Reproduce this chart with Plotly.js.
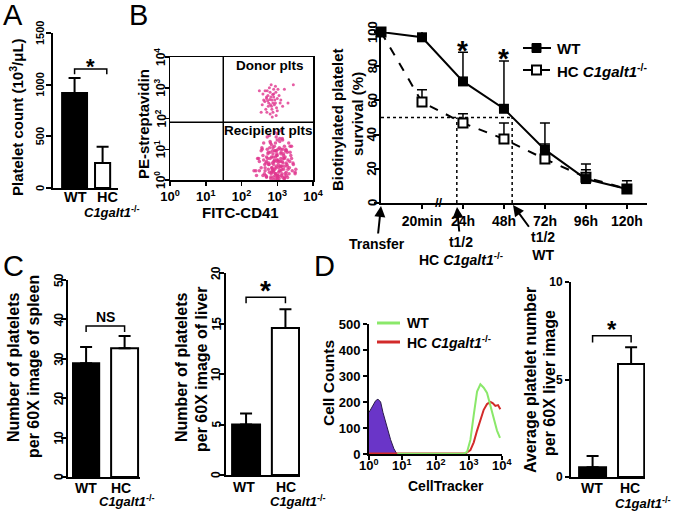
<!DOCTYPE html>
<html><head><meta charset="utf-8">
<script src="https://cdn.plot.ly/plotly-3.0.1.min.js"></script>
<style>html,body{margin:0;padding:0;background:#fff;}#chart{width:677px;height:513px;}</style>
</head><body><div id="chart"></div>
<script>
// ---------------- DATA ----------------
const barCats = ['WT', 'HC'];
const geneLabel = '<i>C1galt1</i><sup>-/-</sup>';

// Panel A: platelet count (10^3/uL)
const plateletCount = [919, 242];
const plateletCountErr = [146, 158];
const plateletTicks = [0, 500, 1000, 1500];

// Panel B (left): flow cytometry dots, log10 units (FITC-CD41, PE-streptavidin)
const donorX = [2.85,2.7,2.95,2.8,3.0,2.75,2.9,2.65,3.05,2.85,2.78,2.92,2.6,3.1,2.88,2.72,2.98,2.82,2.68,3.02,2.9,2.76,2.84,2.95,2.7,2.58,3.15,2.86,2.8,2.93,2.74,3.0,2.66,2.88,2.79,2.96,2.83,2.71,3.08,2.9,2.5,3.3,3.45,2.55,3.2,2.62,2.97,2.81,2.87,2.73];
const donorY = [2.6,2.7,2.5,2.85,2.65,2.4,2.95,2.55,2.75,2.3,3.0,2.45,2.8,2.6,2.2,2.9,2.35,2.7,2.3,2.95,2.8,2.5,2.4,3.05,2.65,2.45,2.4,2.05,2.15,2.6,2.75,2.25,2.9,2.5,2.62,2.85,3.1,2.2,2.5,2.7,2.9,2.5,3.1,2.2,2.95,2.6,2.1,2.45,2.78,2.58];
const recipX = [2.9,3.0,3.1,2.8,3.05,2.95,3.2,2.85,3.15,2.7,3.0,2.92,3.08,2.78,3.25,2.88,3.12,2.98,2.65,3.3,2.95,3.02,2.82,3.18,2.75,3.06,2.9,3.22,2.6,3.35,2.86,3.1,2.96,3.0,2.72,3.14,2.84,3.28,2.94,3.04,2.55,3.4,2.8,3.2,2.99,2.91,3.07,2.68,3.16,2.87,3.01,2.77,3.24,2.93,3.11,2.83,3.19,2.62,3.33,2.97,3.03,2.89,3.09,2.74,3.26,2.81,3.13,2.95,2.5,3.45,2.9,3.05,2.85,3.17,2.7,3.0,2.98,3.23,2.79,3.1,2.45,3.5,2.66,3.36,2.92,3.06,2.88,3.14,2.76,3.21,2.58,2.4,3.38,3.02,2.94,2.84,3.12,2.73,3.27,2.97,
  2.35,2.5,2.62,2.7,2.78,2.86,2.93,3.0,3.07,3.14,3.2,3.28,3.36,3.42,3.5,2.55,2.68,2.8,2.9,3.0,3.1,3.2,3.3,3.4,2.6,2.72,2.84,2.96,3.08,3.18,3.26,3.34,2.48,2.64,2.76,2.88,2.99,3.11,3.22,3.32,2.7,2.82,2.94,3.04,3.15,3.25,2.57,2.75,2.91,3.05,3.17,3.29,3.44,2.66,2.87,3.02,3.13,2.42,3.52,2.98];
const recipY = [0.5,0.8,0.3,0.9,0.6,0.2,0.7,0.4,1.0,0.6,0.1,1.1,0.45,0.25,0.55,0.75,0.15,0.95,0.5,0.35,1.2,0.65,0.05,0.85,0.35,1.05,0.3,0.2,0.8,0.6,0.55,0.7,0.4,1.3,1.0,0.1,1.15,0.9,0.15,0.25,0.4,0.7,0.7,0.45,0.85,0.6,1.25,0.15,0.55,0.95,0.03,0.5,1.0,0.35,0.9,0.2,0.05,0.65,0.2,1.4,0.5,0.1,0.6,0.85,0.15,1.2,0.35,0.75,0.3,0.5,0.25,0.05,0.4,0.8,0.1,0.6,0.45,0.95,1.05,1.0,0.7,0.25,0.4,1.1,0.65,0.3,0.85,1.35,0.55,0.1,1.0,0.3,0.8,0.15,0.95,0.25,0.45,0.7,0.5,0.05,
  0.3,0.6,1.2,0.1,1.45,0.3,1.55,0.15,1.35,0.6,1.1,0.45,0.9,0.3,0.2,0.95,0.55,1.25,0.02,1.5,0.85,0.05,0.65,1.1,0.15,1.4,0.75,0.2,1.6,0.35,0.95,0.4,0.7,0.2,0.5,1.05,0.65,0.45,0.75,1.2,0.75,0.1,0.95,0.4,1.3,0.25,1.05,0.9,0.6,0.12,0.7,0.08,0.55,0.3,0.35,1.0,0.2,0.15,0.35,0.8];
const flowTickVals = [0, 1, 2, 3, 4];
const flowTicks = ['10<sup>0</sup>','10<sup>1</sup>','10<sup>2</sup>','10<sup>3</sup>','10<sup>4</sup>'];

// Panel B (right): biotinylated platelet survival (%)
const survivalTimes = ['Transfer','20min','24h','48h','72h','96h','120h'];
const wtSurvival = [100, 96.9, 71.1, 55.1, 31.2, 14.0, 8.2];
const wtSurvivalErr = [0, 4.1, 17.0, 28.0, 15.6, 8.8, 4.8];
const hcSurvival = [100, 59.0, 46.8, 37.4, 25.7, 15.0, 8.2];
const hcSurvivalErr = [0, 7.3, 5.4, 9.4, 8.8, 4.5, 0];
const survivalTicks = [0, 20, 40, 60, 80, 100];

// Panel C
const spleenPlatelets = [28.9, 32.7];
const spleenErr = [4.1, 3.1];
const spleenTicks = [0, 10, 20, 30, 40, 50];
const liverPlatelets = [5.0, 14.55];
const liverErr = [1.1, 1.85];
const liverTicks = [0, 5, 10, 15, 20];

// Panel D (left): CellTracker histogram, x in log10 units
const bgX = [0, 0.1, 0.2, 0.27, 0.35, 0.42, 0.5, 0.57, 0.65, 0.75, 0.84];
const bgY = [160, 185, 205, 211, 200, 160, 120, 92, 55, 20, 0];
const wtHistX = [0.85, 2.85, 2.95, 3.05, 3.15, 3.25, 3.35, 3.45, 3.55, 3.65, 3.75, 3.85, 3.94];
const wtHistY = [1, 1, 8, 55, 150, 240, 268, 255, 235, 185, 130, 90, 62];
const hcHistX = [0, 2.9, 3.05, 3.15, 3.25, 3.35, 3.45, 3.55, 3.65, 3.72, 3.8, 3.88, 3.95];
const hcHistY = [2, 2, 15, 45, 90, 135, 170, 192, 200, 196, 185, 188, 172];
const countTicks = [0, 100, 200, 300, 400, 500];

// Panel D (right): average platelet number per 60X liver image
const avgLiverPlatelets = [0.5, 5.8];
const avgLiverErr = [0.58, 0.85];
const avgTicks = [0, 5, 10];

// ---------------- LAYOUT HELPERS ----------------
const W = 677, H = 513;
const F = 'Liberation Sans, Arial, Helvetica, sans-serif';
const fx = p => p / W;
const fy = p => 1 - p / H;
const bold = (size) => ({family: F, size: size, color: '#000', weight: 'bold'});

function axis(domain, range, extra) {
  return Object.assign({
    domain: domain, range: range, showline: true, linewidth: 2, linecolor: '#000',
    ticks: 'outside', ticklen: 5, tickwidth: 2, tickcolor: '#000',
    showgrid: false, zeroline: false, tickfont: bold(12), fixedrange: true
  }, extra || {});
}
const errUp = (arr, th, w) => ({type: 'data', symmetric: false, array: arr, arrayminus: arr.map(() => 0), color: '#000', thickness: th || 2, width: w || 6});
const catIdx = barCats.map((c, i) => i);
const timeIdx = survivalTimes.map((t, i) => i);

function barTrace(vals, errs, widths, xa, ya) {
  return {type: 'bar', x: catIdx, y: vals, width: widths,
    marker: {color: ['#000', '#fff'], line: {color: '#000', width: 2}},
    error_y: errUp(errs), xaxis: xa, yaxis: ya, hoverinfo: 'skip'};
}

const traces = [
  barTrace(plateletCount, plateletCountErr, [0.89, 0.54], 'x', 'y'),
  {type: 'scatter', mode: 'markers', x: donorX, y: donorY, xaxis: 'x2', yaxis: 'y2',
   marker: {size: 3, color: '#e0358d', opacity: 0.8}, hoverinfo: 'skip'},
  {type: 'scatter', mode: 'markers', x: recipX, y: recipY, xaxis: 'x2', yaxis: 'y2',
   marker: {size: 3.5, color: '#e0358d', opacity: 0.8}, hoverinfo: 'skip'},
  {type: 'scatter', mode: 'lines+markers', x: timeIdx, y: hcSurvival, xaxis: 'x3', yaxis: 'y3',
   line: {color: '#000', width: 2, dash: 'dash'},
   marker: {symbol: 'square', size: 9, color: '#fff', line: {color: '#000', width: 2}},
   error_y: errUp(hcSurvivalErr, 1.5, 5), cliponaxis: false, hoverinfo: 'skip'},
  {type: 'scatter', mode: 'lines+markers', x: timeIdx, y: wtSurvival, xaxis: 'x3', yaxis: 'y3',
   line: {color: '#000', width: 2},
   marker: {symbol: 'square', size: 10, color: '#000'},
   error_y: errUp(wtSurvivalErr, 1.5, 5), cliponaxis: false, hoverinfo: 'skip'},
  barTrace(spleenPlatelets, spleenErr, [0.68, 0.7], 'x4', 'y4'),
  barTrace(liverPlatelets, liverErr, [0.71, 0.69], 'x5', 'y5'),
  {type: 'scatter', mode: 'lines', x: bgX, y: bgY, xaxis: 'x6', yaxis: 'y6', fill: 'tozeroy',
   fillcolor: '#6a35c8', line: {color: '#2a1a4a', width: 1}, hoverinfo: 'skip'},
  {type: 'scatter', mode: 'lines', x: hcHistX, y: hcHistY, xaxis: 'x6', yaxis: 'y6',
   line: {color: '#d22a2a', width: 2}, hoverinfo: 'skip'},
  {type: 'scatter', mode: 'lines', x: wtHistX, y: wtHistY, xaxis: 'x6', yaxis: 'y6',
   line: {color: '#8ae86a', width: 2}, hoverinfo: 'skip'},
  barTrace(avgLiverPlatelets, avgLiverErr, [0.7, 0.68], 'x7', 'y7')
];

const barX = (extra) => Object.assign({tickvals: catIdx, ticktext: barCats, ticks: '', showticklabels: false}, extra);

const layout = {
  width: W, height: H, autosize: false, showlegend: false,
  margin: {l: 0, r: 0, t: 0, b: 0}, paper_bgcolor: '#fff', plot_bgcolor: 'rgba(0,0,0,0)',
  font: {family: F, color: '#000'},
  // A
  xaxis: axis([fx(53), fx(118)], [-0.77, 1.55], barX({anchor: 'y'})),
  yaxis: axis([fy(188), fy(33)], [0, 1500], {anchor: 'x', tickvals: plateletTicks, showticklabels: false}),
  // B flow
  xaxis2: axis([fx(170), fx(313)], [0, 4], {anchor: 'y2', mirror: true, linewidth: 1.5, ticklen: 4, tickwidth: 1.5, tickvals: flowTickVals, ticktext: flowTicks, tickfont: bold(13)}),
  yaxis2: axis([fy(180), fy(57)], [0, 4], {anchor: 'x2', mirror: true, linewidth: 1.5, ticklen: 4, tickwidth: 1.5, tickvals: flowTickVals, showticklabels: false}),
  // B survival
  xaxis3: axis([fx(381), fx(647)], [0, 6.49], {anchor: 'y3', tickvals: timeIdx.slice(1), ticktext: survivalTimes.slice(1), tickfont: bold(14), ticklen: 4}),
  yaxis3: axis([fy(203), fy(32)], [0, 100], {anchor: 'x3', tickvals: survivalTicks, showticklabels: false}),
  // C spleen
  xaxis4: axis([fx(68), fx(140)], [-0.47, 1.4], barX({anchor: 'y4'})),
  yaxis4: axis([fy(477), fy(280)], [0, 50], {anchor: 'x4', tickvals: spleenTicks, showticklabels: false}),
  // C liver
  xaxis5: axis([fx(226), fx(300)], [-0.51, 1.37], barX({anchor: 'y5'})),
  yaxis5: axis([fy(475), fy(273)], [0, 20], {anchor: 'x5', tickvals: liverTicks, showticklabels: false}),
  // D histogram
  xaxis6: axis([fx(369), fx(502)], [0, 4], {anchor: 'y6', tickvals: flowTickVals, showticklabels: false, ticklen: 4}),
  yaxis6: axis([fy(454), fy(324)], [0, 500], {anchor: 'x6', tickvals: countTicks, tickfont: bold(13), ticklen: 4}),
  // D bars
  xaxis7: axis([fx(571), fx(645)], [-0.56, 1.36], barX({anchor: 'y7'})),
  yaxis7: axis([fy(477), fy(282)], [0, 10], {anchor: 'x7', tickvals: avgTicks, tickfont: bold(12), ticklen: 4}),
  shapes: [], annotations: []
};

const S = layout.shapes, A = layout.annotations;
function bracket(xa, ya, x0, x1, yTop, yBot) {
  S.push({type: 'path', xref: xa, yref: ya, path: `M ${x0},${yBot} L ${x0},${yTop} L ${x1},${yTop} L ${x1},${yBot}`, line: {color: '#000', width: 1.5}});
}
function paperText(text, px, py, size, extra) {
  A.push(Object.assign({text: text, x: fx(px), y: fy(py), xref: 'paper', yref: 'paper', showarrow: false,
    xanchor: 'center', yanchor: 'middle', font: bold(size)}, extra || {}));
}
function dataText(text, xa, ya, x, y, size) {
  A.push({text: text, x: x, y: y, xref: xa, yref: ya, showarrow: false, xanchor: 'center', yanchor: 'middle', font: bold(size)});
}
function pline(x0, y0, x1, y1, color, width, dash) {
  S.push({type: 'line', xref: 'paper', yref: 'paper', x0: fx(x0), y0: fy(y0), x1: fx(x1), y1: fy(y1), line: {color: color, width: width, dash: dash || 'solid'}});
}
// rotated y tick labels, placed on the axis scale
function rotTicks(vals, texts, ya, cx, size) {
  vals.forEach((v, i) => A.push({text: String(texts[i]), x: fx(cx), xref: 'paper', y: v, yref: ya,
    textangle: -90, showarrow: false, xanchor: 'center', yanchor: 'middle', font: bold(size)}));
}
// x tick labels placed on the axis scale
function xTicks(vals, texts, xa, cy, size) {
  vals.forEach((v, i) => A.push({text: String(texts[i]), x: v, xref: xa, y: fy(cy), yref: 'paper',
    showarrow: false, xanchor: 'center', yanchor: 'middle', font: bold(size)}));
}
function catLabels(wx, hx, gx, ly, gy, size, gsize) {
  paperText(barCats[0], wx, ly, size);
  paperText(barCats[1], hx, ly, size);
  paperText(geneLabel, gx, gy, gsize);
}

// Panel letters
[['A', 13, 15], ['B', 138, 15], ['C', 13, 266], ['D', 324, 266]].forEach(l =>
  paperText(l[0], l[1], l[2], 29, {font: {family: F, size: 29, color: '#000'}}));

// Panel A
paperText('Platelet count (10<sup>3</sup>/μL)', 16, 117, 15, {textangle: -90});
rotTicks(plateletTicks, plateletTicks, 'y', 40, 11);
catLabels(75, 107, 112, 197, 212, 14.5, 13);
bracket('x', 'y', 0, 1.15, 1152, 1100);
dataText('*', 'x', 'y', 0.57, 1175, 22);

// Panel B flow
paperText('PE-streptavidin', 143, 124, 15, {textangle: -90});
rotTicks(flowTickVals, flowTicks, 'y2', 160, 12);
paperText('FITC-CD41', 240, 212, 15);
paperText('Donor plts', 270, 65, 13.5);
paperText('Recipient plts', 268, 130, 13.5);
S.push({type: 'line', xref: 'x2', yref: 'y2', x0: 1.49, x1: 1.49, y0: 0, y1: 4, line: {color: '#000', width: 1.5}});
S.push({type: 'line', xref: 'x2', yref: 'y2', x0: 0, x1: 4, y0: 1.88, y1: 1.88, line: {color: '#000', width: 1.5}});

// Panel B survival
paperText('Biotinylated platelet', 337, 120, 15, {textangle: -90});
paperText('survival (%)', 357, 114, 15, {textangle: -90});
rotTicks(survivalTicks, survivalTicks, 'y3', 372, 13);
dataText('*', 'x3', 'y3', 2, 89, 28);
dataText('*', 'x3', 'y3', 3, 84.5, 28);
S.push({type: 'line', xref: 'x3', yref: 'y3', x0: 0, x1: 3.2, y0: 50, y1: 50, line: {color: '#000', width: 1.5, dash: 'dot'}});
S.push({type: 'line', xref: 'x3', yref: 'y3', x0: 1.85, x1: 1.85, y0: 0, y1: 50, line: {color: '#000', width: 1.5, dash: 'dot'}});
S.push({type: 'line', xref: 'x3', yref: 'y3', x0: 3.2, x1: 3.2, y0: 0, y1: 50, line: {color: '#000', width: 1.5, dash: 'dot'}});
paperText('<b>//</b>', 439, 202, 13);
function arrowNote(text, hx, hy, tx, ty) {
  A.push({text: text, x: fx(hx), y: fy(hy), xref: 'paper', yref: 'paper', showarrow: true,
    ax: tx - hx, ay: ty - hy, arrowhead: 2, arrowsize: 1.1, arrowwidth: 2, arrowcolor: '#000',
    font: bold(14), align: 'center', standoff: 0, startstandoff: 1});
}
arrowNote(survivalTimes[0], 381, 206, 377, 244);
arrowNote('t1/2<br>HC ' + geneLabel, 457, 207, 461, 251);
arrowNote('t1/2<br>WT', 513, 205, 543, 246);
// legend
pline(523, 48, 551, 48, '#000', 2);
S.push({type: 'rect', xref: 'paper', yref: 'paper', x0: fx(532), x1: fx(541), y0: fy(52.5), y1: fy(43.5), fillcolor: '#000', line: {color: '#000', width: 1}});
pline(523, 70, 551, 70, '#000', 2, 'dash');
S.push({type: 'rect', xref: 'paper', yref: 'paper', x0: fx(532), x1: fx(541), y0: fy(74.5), y1: fy(65.5), fillcolor: '#fff', line: {color: '#000', width: 2}});
paperText('WT', 555, 48, 15, {xanchor: 'left'});
paperText('HC ' + geneLabel, 555, 70, 15, {xanchor: 'left'});

// Panel C
paperText('Number of platelets', 13, 368, 16, {textangle: -90});
paperText('per 60X image of spleen', 33, 367, 16, {textangle: -90});
rotTicks(spleenTicks, spleenTicks, 'y4', 59, 12);
catLabels(86, 121, 127, 488, 501, 14, 13);
bracket('x4', 'y4', 0, 1, 38.3, 36.8);
dataText('NS', 'x4', 'y4', 0.5, 40.6, 14);
paperText('Number of platelets', 181, 368, 16, {textangle: -90});
paperText('per 60X image of liver', 201, 370, 16, {textangle: -90});
rotTicks(liverTicks, liverTicks, 'y5', 216, 12);
catLabels(244, 285.5, 298, 487, 501, 14, 13);
bracket('x5', 'y5', 0, 1, 17.6, 17.0);
dataText('*', 'x5', 'y5', 0.5, 18.3, 28);

// Panel D histogram
paperText('Cell Counts', 328, 383, 15.5, {textangle: -90});
xTicks(flowTickVals, flowTicks, 'x6', 465, 13);
paperText('CellTracker', 446, 486, 14);
pline(377, 323, 400, 323, '#8ae86a', 3);
pline(377, 342, 400, 342, '#d22a2a', 3);
paperText('WT', 405, 323, 14, {xanchor: 'left'});
paperText('HC ' + geneLabel, 405, 342, 14, {xanchor: 'left'});

// Panel D bars
paperText('Average platelet number', 530, 380, 16, {textangle: -90});
paperText('per 60X liver image', 549, 383, 16, {textangle: -90});
catLabels(592, 630, 643, 488, 503, 14, 13);
bracket('x7', 'y7', 0, 1, 7.25, 6.9);
dataText('*', 'x7', 'y7', 0.5, 7.55, 24);

Plotly.newPlot('chart', traces, layout, {staticPlot: true, displayModeBar: false});
</script>
</body></html>
